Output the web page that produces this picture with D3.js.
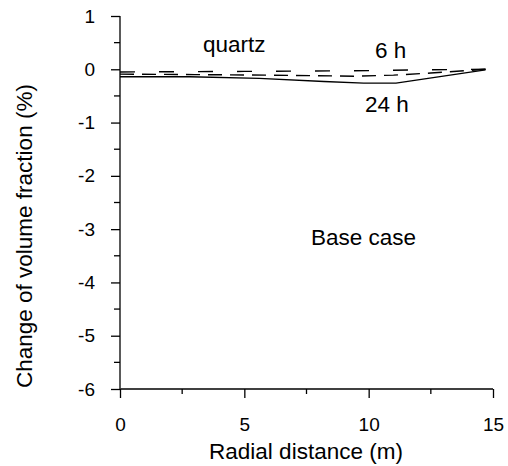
<!DOCTYPE html>
<html><head><meta charset="utf-8">
<script src="https://cdn.jsdelivr.net/npm/d3@7"></script>
<style>body{margin:0;background:#fff}svg{display:block}text{font-family:"Liberation Sans",Arial,sans-serif;fill:#000}</style>
</head><body>
<svg id="c" width="508" height="466"></svg>
<script>
const xTicks = [0, 5, 10, 15];
const xMinor = [2.5, 7.5, 12.5];
const yTicks = [1, 0, -1, -2, -3, -4, -5, -6];
const yMinor = [0.5, -0.5, -1.5, -2.5, -3.5, -4.5, -5.5];
const upperDashX = [0, 5, 10, 12, 14.7];
const upperDashY = [-0.05, -0.04, -0.025, -0.01, 0];
const lowerDashX = [0, 3, 6, 9.5, 11, 12.5, 14.7];
const lowerDashY = [-0.09, -0.1, -0.11, -0.13, -0.11, -0.07, 0];
const solidX = [0, 2.8, 5.6, 8.2, 9.8, 11.1, 14.7];
const solidY = [-0.14, -0.14, -0.17, -0.23, -0.26, -0.26, -0.01];

const svg = d3.select("#c");
const x = d3.scaleLinear().domain([0, 15]).range([120, 493]);
const y = d3.scaleLinear().domain([-6, 1]).range([389, 16]);

// axes
const xAxis = d3.axisBottom(x).tickValues(xTicks).tickSize(9).tickSizeOuter(0).tickPadding(20).tickFormat(d => String(d));
const gx = svg.append("g").attr("transform", "translate(0,389)").call(xAxis);
gx.selectAll("text").style("font-size", "19px").attr("dy", "0.71em");
gx.selectAll(".minor").data(xMinor).enter().append("line").attr("class","minor")
  .attr("x1", d => x(d)).attr("x2", d => x(d)).attr("y1", 0).attr("y2", 5).attr("stroke", "#000");

const yAxis = d3.axisLeft(y).tickValues(yTicks).tickSize(9).tickSizeOuter(0).tickPadding(16).tickFormat(d => String(d));
const gy = svg.append("g").attr("transform", "translate(120,0)").call(yAxis);
gy.selectAll("text").style("font-size", "19px");
gy.selectAll(".minor").data(yMinor).enter().append("line").attr("class","minor")
  .attr("y1", d => y(d)).attr("y2", d => y(d)).attr("x1", 0).attr("x2", -6).attr("stroke", "#000");
svg.selectAll(".domain,.tick line").attr("stroke", "#000").attr("stroke-width", 1.3);
svg.selectAll(".minor").attr("stroke-width", 1.3);
gx.select(".domain").attr("d", "M120.5,0H493");
gy.select(".domain").attr("d", "M0,16V389");

const line = d3.line().x(d => x(d[0])).y(d => y(d[1]));
function draw(xs, ys, dash) {
  svg.append("path").datum(xs.map((v, i) => [v, ys[i]]))
    .attr("d", line).attr("fill", "none").attr("stroke", "#000").attr("stroke-width", 1.4)
    .attr("stroke-dasharray", dash);
}
draw(upperDashX, upperDashY, "15,24");
draw(lowerDashX, lowerDashY, "14,8");
draw(solidX, solidY, null);

// labels
const lab = (t, px, py, fs) => svg.append("text").attr("x", px).attr("y", py).style("font-size", fs + "px").text(t);
lab("quartz", 203, 52, 22.5);
lab("6 h", 375, 58, 22.5);
lab("24 h", 365, 112, 22.5);
lab("Base case", 311, 245, 22.5);
svg.append("text").attr("x", 306).attr("y", 459).attr("text-anchor", "middle").style("font-size", "22.5px").text("Radial distance (m)");
svg.append("text").attr("transform", "translate(32,388) rotate(-90)").attr("text-anchor", "start").style("font-size", "22.5px").text("Change of volume fraction (%)");
</script>
</body></html>
